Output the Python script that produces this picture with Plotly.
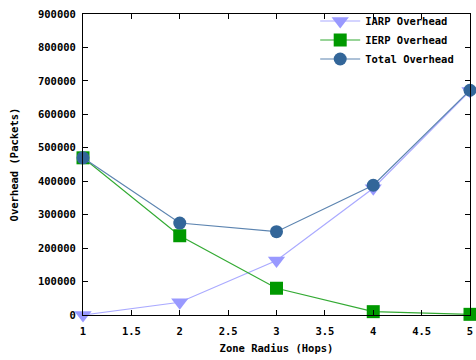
import plotly.graph_objects as go

zone_radius = [1, 2, 3, 4, 5]
iarp = [0, 38000, 163000, 379000, 670000]
ierp = [470000, 237000, 80000, 10000, 2000]
total = [470000, 275000, 249000, 388000, 672000]

x_ticks = [1, 1.5, 2, 2.5, 3, 3.5, 4, 4.5, 5]
x_tick_labels = ["1", "1.5", "2", "2.5", "3", "3.5", "4", "4.5", "5"]
y_ticks = [0, 100000, 200000, 300000, 400000, 500000, 600000, 700000, 800000, 900000]

FONT = "DejaVu Sans Mono"

fig = go.Figure()
fig.add_trace(go.Scatter(
    x=zone_radius, y=iarp, name="IARP Overhead", mode="lines+markers",
    line=dict(color="#aaaaff", width=1.2),
    marker=dict(symbol="triangle-down", size=15, color="#9999ff"),
    cliponaxis=False))
fig.add_trace(go.Scatter(
    x=zone_radius, y=ierp, name="IERP Overhead", mode="lines+markers",
    line=dict(color="#33aa33", width=1.2),
    marker=dict(symbol="square", size=13, color="#009900"),
    cliponaxis=False))
fig.add_trace(go.Scatter(
    x=zone_radius, y=total, name="Total Overhead", mode="lines+markers",
    line=dict(color="#5c84b0", width=1.2),
    marker=dict(symbol="circle", size=13, color="#336699"),
    cliponaxis=False))

axis_common = dict(
    showline=True, linecolor="black", linewidth=1, mirror="ticks",
    ticks="inside", ticklen=5, tickcolor="black", showgrid=False, zeroline=False,
    automargin=False,
    tickfont=dict(family=FONT, size=10.5, color="black", weight="bold"),
)

fig.update_layout(
    width=476, height=360,
    margin=dict(l=83, r=6, t=12, b=45),
    paper_bgcolor="white", plot_bgcolor="white",
    font=dict(family=FONT, size=10.5, color="black", weight="bold"),
    xaxis=dict(range=[1, 5], tickvals=x_ticks, ticktext=x_tick_labels,
               ticklabelstandoff=6,
               title=dict(text="Zone Radius (Hops)", standoff=9,
                          font=dict(family=FONT, size=10.5, weight="bold")),
               **axis_common),
    yaxis=dict(range=[0, 900000], tickvals=y_ticks, tickformat="d",
               ticklabelstandoff=4,
               title=dict(text="Overhead (Packets)", standoff=17,
                          font=dict(family=FONT, size=10.5, weight="bold")),
               **axis_common),
    legend=dict(x=0.6, y=1.025, xanchor="left", yanchor="top",
                bgcolor="rgba(0,0,0,0)", tracegroupgap=0,
                font=dict(family=FONT, size=10.5, weight="bold"),
                itemwidth=40),
)

fig.write_html("out.html", config={"displayModeBar": False},
               post_script="document.body.style.margin='0';")
